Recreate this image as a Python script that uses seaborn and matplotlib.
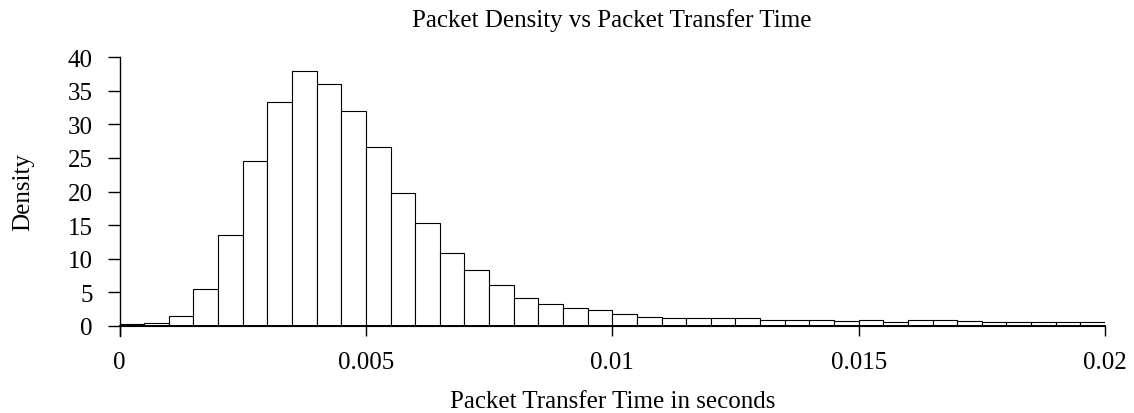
import numpy as np
import pandas as pd
import matplotlib
matplotlib.use("Agg")
import matplotlib.pyplot as plt
import seaborn as sns

# ---- data ----
bin_start = 0.0
bin_stop = 0.02
n_bins = 40
density = [0.2, 0.35, 1.4, 5.5, 13.5, 24.6, 33.4, 37.9, 36.0, 32.0,
           26.6, 19.8, 15.3, 10.8, 8.3, 6.1, 4.2, 3.3, 2.6, 2.34,
           1.79, 1.3, 1.2, 1.15, 1.15, 1.1, 0.8, 0.85, 0.85, 0.65,
           0.8, 0.5, 0.8, 0.8, 0.65, 0.5, 0.5, 0.5, 0.5, 0.5]
x_ticks = [0, 0.005, 0.01, 0.015, 0.02]
x_tick_labels = ["0", "0.005", "0.01", "0.015", "0.02"]
y_ticks = [0, 5, 10, 15, 20, 25, 30, 35, 40]
title = "Packet Density vs Packet Transfer Time"
x_label = "Packet Transfer Time in seconds"
y_label = "Density"

edges = [float(e) for e in np.linspace(bin_start, bin_stop, n_bins + 1)]
centers = [(a + b) / 2 for a, b in zip(edges[:-1], edges[1:])]
df = pd.DataFrame({"t": centers, "d": density})

sns.set_style("ticks")
plt.rcParams["font.family"] = ["Liberation Serif", "DejaVu Serif"]

W, H = 1134, 414
fig = plt.figure(figsize=(W / 100, H / 100), dpi=100)
ax_l, ax_r, ax_t, ax_b = 119.5, 1105.0, 58.3, 337.0
ax = fig.add_axes([ax_l / W, 1 - ax_b / H, (ax_r - ax_l) / W, (ax_b - ax_t) / H])

sns.histplot(data=df, x="t", weights="d", bins=edges, stat="count",
             color="white", edgecolor="black", linewidth=0.8, alpha=1,
             ax=ax)

ax.set_xlim(bin_start, bin_stop)
ax.set_ylim(-1.53, 40)
ax.spines["top"].set_visible(False)
ax.spines["right"].set_visible(False)
ax.spines["bottom"].set_position(("data", 0))
ax.spines["left"].set_linewidth(1.0)
ax.spines["bottom"].set_linewidth(1.4)
for s in ("left", "bottom"):
    ax.spines[s].set_color("black")
    ax.spines[s].set_zorder(5)

fs = 18
ax.set_xticks(x_ticks)
ax.set_xticklabels(x_tick_labels)
ax.set_yticks(y_ticks)
ax.tick_params(axis="x", direction="out", length=7.4, width=1.0,
               colors="black", labelsize=fs, pad=11)
ax.tick_params(axis="y", direction="out", length=8.3, width=1.0,
               colors="black", labelsize=fs, pad=11)

ax.set_xlabel(x_label, fontsize=fs, color="black")
ax.xaxis.label.set_va("baseline")
ax.xaxis.set_label_coords(0.5, (ax_b - 408) / (ax_b - ax_t))
ax.set_ylabel(y_label, fontsize=fs, color="black")
ax.yaxis.label.set_va("center")
ax.yaxis.set_label_coords((23 - ax_l) / (ax_r - ax_l), (ax_b - 191.7) / (ax_b - ax_t))

fig.text((ax_l + ax_r) / 2 / W, 1 - 27.5 / H, title, fontsize=fs,
         ha="center", va="baseline", color="black")

fig.savefig("out.png", dpi=100, facecolor="white")
